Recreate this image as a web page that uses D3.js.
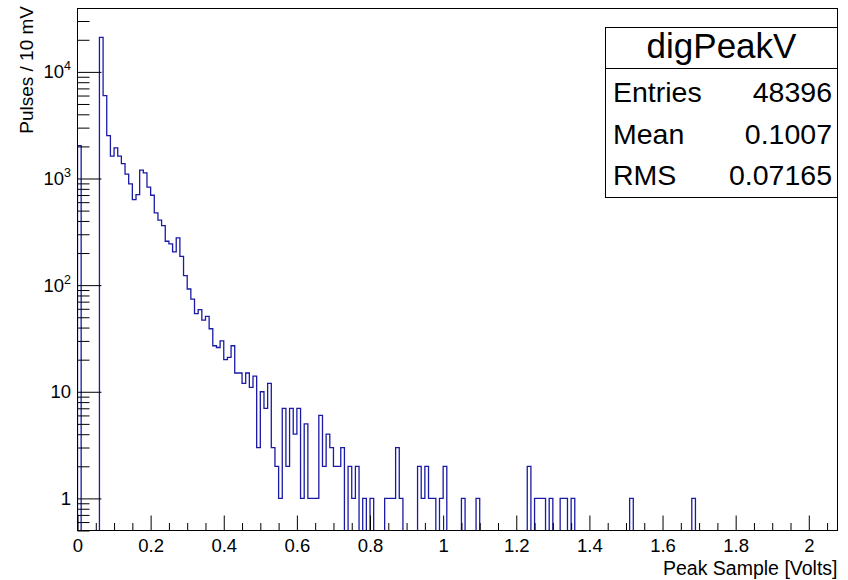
<!DOCTYPE html>
<html><head><meta charset="utf-8">
<script src="https://cdn.jsdelivr.net/npm/d3@7"></script>
<style>
body{margin:0;background:#fff;}
svg{display:block;}
text{font-family:"Liberation Sans",Arial,Helvetica,sans-serif;fill:#000;}
</style></head><body>
<svg id="c" width="848" height="580"></svg>
<script>
// ---- data ----
const binWidth = 0.01;           // 10 mV bins
const binStart = 0.0;
// counts per bin, starting at 0.00 V
const counts = [
  2030, 0, 0, 0, 0, 0, 21100, 5980, 2520, 1620,      // 0.00-0.09
  1940, 1620, 1380, 1100, 890, 634, 707, 1196, 1128, 829, // 0.10-0.19
  697, 476, 407, 362, 258, 244, 205, 277, 186, 123,   // 0.20-0.29
  92, 74, 54, 59, 47, 51, 39, 27, 26, 30,             // 0.30-0.39
  20, 21, 27, 15, 15, 12, 15, 11, 14, 3,              // 0.40-0.49
  10, 7, 12, 3, 2, 1, 7, 2, 7, 4,                     // 0.50-0.59
  7, 1, 5, 1, 1, 1, 6, 2, 4, 3,                       // 0.60-0.69
  2, 2, 3, 0, 2, 1, 2, 0, 1, 0,                       // 0.70-0.79
  1, 0, 0, 0, 1, 1, 1, 3, 1, 0,                       // 0.80-0.89
  0, 0, 0, 2, 1, 2, 1, 1, 0, 1,                       // 0.90-0.99
  2, 0, 0, 0, 0, 1, 0, 0, 0, 1,                       // 1.00-1.09
  0, 0, 0, 0, 0, 0, 0, 0, 0, 0,                       // 1.10-1.19
  0, 0, 0, 2, 0, 1, 1, 1, 0, 1,                       // 1.20-1.29
  0, 0, 1, 1, 0, 1, 0, 0, 0, 0,                       // 1.30-1.39
  0, 0, 0, 0, 0, 0, 0, 0, 0, 0,                       // 1.40-1.49
  0, 1, 0, 0, 0, 0, 0, 0, 0, 0,                       // 1.50-1.59
  0, 0, 0, 0, 0, 0, 0, 0, 1, 0                        // 1.60-1.69
];
const xTickValues = [0, 0.2, 0.4, 0.6, 0.8, 1, 1.2, 1.4, 1.6, 1.8, 2];
const yTickValues = [1, 10, 100, 1000, 10000];
const yTickBase = ["1", "10", "10", "10", "10"];
const yTickExp  = ["", "", "2", "3", "4"];
const xDomain = [0, 2.0785];
const yDomain = [0.5, 39300];
const xTitle = "Peak Sample [Volts]";
const yTitle = "Pulses / 10 mV";
const statsTitle = "digPeakV";
const statsNames  = ["Entries", "Mean", "RMS"];
const statsValues = ["48396", "0.1007", "0.07165"];

// ---- layout ----
const W = 848, H = 580;
const L = 77.5, R = 837.5, T = 8.5, B = 530.5;
const svg = d3.select("#c");

const x = d3.scaleLinear().domain(xDomain).range([L, R]);
const y = d3.scaleLog().domain(yDomain).range([B, T]);

svg.append("rect").attr("width", W).attr("height", H).attr("fill", "#fff");

svg.append("defs").append("clipPath").attr("id", "clip")
  .append("rect").attr("x", L).attr("y", T).attr("width", R - L).attr("height", B - T);

// histogram outline
const pts = [{e: binStart, c: 0}];
counts.forEach((c, i) => pts.push({e: binStart + i * binWidth, c: c}));
pts.push({e: binStart + counts.length * binWidth, c: 0});
const yv = c => c > 0 ? y(c) : B + 2;
const line = d3.line().x(d => x(d.e)).y(d => yv(d.c)).curve(d3.curveStepAfter);
svg.append("path").attr("d", line(pts))
  .attr("clip-path", "url(#clip)")
  .attr("fill", "none").attr("stroke", "#1a1aa6").attr("stroke-width", 1.3);

// x axis ticks
const xMinor = d3.range(0, xDomain[1] + 1e-9, 0.05).filter(v => Math.abs(v * 5 - Math.round(v * 5)) > 1e-6);
const gxm = svg.append("g").attr("transform", `translate(0,${B})`)
  .call(d3.axisBottom(x).tickValues(xMinor).tickSize(-7.5).tickFormat(""));
const gx = svg.append("g").attr("transform", `translate(0,${B})`)
  .call(d3.axisBottom(x).tickValues(xTickValues).tickSize(-15).tickPadding(8).tickFormat(d3.format("~g")));
gx.selectAll("text").attr("font-size", 18.5).attr("font-family", '"Liberation Sans",Arial,sans-serif');

// y axis ticks
const yMinor = [];
[-1, 0, 1, 2, 3, 4].forEach(k => { for (let m = 2; m <= 9; m++) { const v = m * Math.pow(10, k); if (v >= yDomain[0] && v <= yDomain[1]) yMinor.push(v); } });
const gym = svg.append("g").attr("transform", `translate(${L},0)`)
  .call(d3.axisLeft(y).tickValues(yMinor).tickSize(-12).tickFormat(""));
const gy = svg.append("g").attr("transform", `translate(${L},0)`)
  .call(d3.axisLeft(y).tickValues(yTickValues).tickSize(-24).tickFormat(""));
[gxm, gx, gym, gy].forEach(g => { g.select(".domain").remove(); g.selectAll("line").attr("stroke", "#000"); });

const yl = svg.append("g").selectAll("text").data(yTickValues).join("text")
  .attr("x", 71).attr("y", d => y(d) + 6.5)
  .attr("text-anchor", "end").attr("font-size", 18.5);
yl.append("tspan").text((d, i) => yTickBase[i]);
yl.append("tspan").attr("dy", -8).attr("font-size", 12.5).text((d, i) => yTickExp[i]);

// frame
svg.append("rect").attr("x", L).attr("y", T).attr("width", R - L).attr("height", B - T)
  .attr("fill", "none").attr("stroke", "#000").attr("stroke-width", 1);

// axis titles
svg.append("text").attr("x", R).attr("y", 575).attr("text-anchor", "end")
  .attr("font-size", 19.5).text(xTitle);
svg.append("text").attr("transform", `translate(32.5,6) rotate(-90)`).attr("text-anchor", "end")
  .attr("font-size", 19).text(yTitle);

// stats box
const sx = 605.5, sy = 27.5, sw = 232, sh = 170;
svg.append("rect").attr("x", sx).attr("y", sy).attr("width", sw).attr("height", sh)
  .attr("fill", "#fff").attr("stroke", "#000");
svg.append("line").attr("x1", sx).attr("x2", sx + sw).attr("y1", 68.5).attr("y2", 68.5).attr("stroke", "#000");
svg.append("text").attr("x", sx + sw / 2).attr("y", 58).attr("text-anchor", "middle")
  .attr("font-size", 35).text(statsTitle);
const rowY = [102, 143.5, 185];
statsNames.forEach((n, i) => {
  svg.append("text").attr("x", 613).attr("y", rowY[i]).attr("font-size", 28.5).text(n);
  svg.append("text").attr("x", 832).attr("y", rowY[i]).attr("text-anchor", "end").attr("font-size", 28.5).text(statsValues[i]);
});
</script></body></html>
